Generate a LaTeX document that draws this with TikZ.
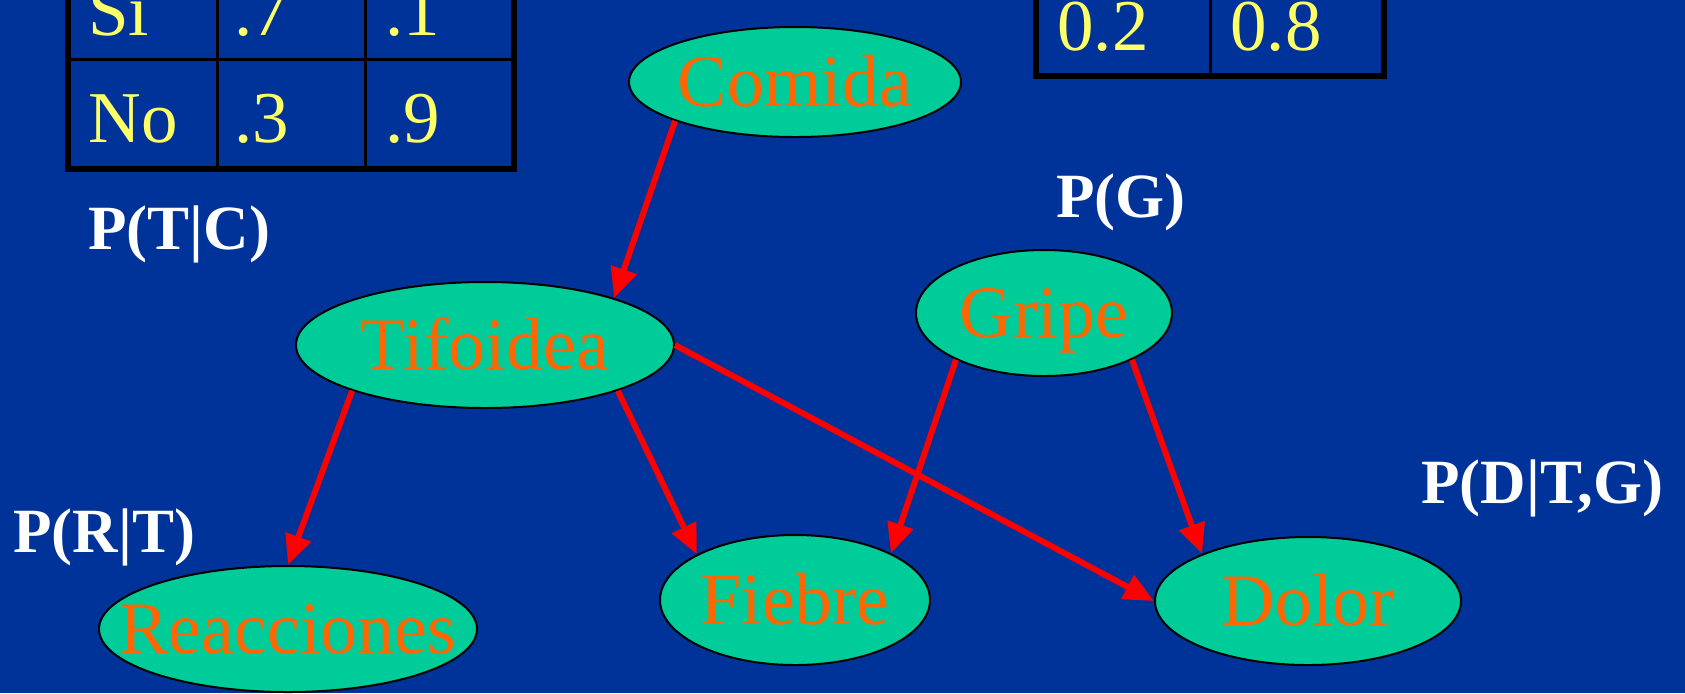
\documentclass[tikz,border=0pt]{standalone}
\usepackage{fontspec}
\setmainfont{Liberation Serif}
\usetikzlibrary{shapes.geometric,arrows.meta}
\definecolor{fondo}{RGB}{0,51,153}
\definecolor{verde}{RGB}{0,204,153}
\definecolor{naranja}{RGB}{255,102,0}
\definecolor{amarillo}{RGB}{255,255,102}
\tikzset{
  nodo/.style={ellipse, draw=black, line width=1pt, fill=verde, text=naranja,
    inner xsep=-20pt, inner ysep=0pt, text height=24.5pt, text depth=0pt,
    font=\fontsize{37}{40}\selectfont},
  flecha/.style={red, line width=3pt, -{Triangle[length=15pt,width=13pt]}},
  prob/.style={anchor=base west, text=white, inner sep=0pt,
    font=\fontsize{31.5}{34}\selectfont\bfseries},
  celda/.style={anchor=base west, text=amarillo, inner sep=0pt,
    font=\fontsize{36.5}{40}\selectfont},
  borde/.style={black, line width=3pt},
  linea/.style={black, line width=1.5pt}
}
\begin{document}
\begin{tikzpicture}[x=0.5pt,y=-0.5pt]
\useasboundingbox (0,0) rectangle (1685,693);
\clip (0,0) rectangle (1685,693);
\fill[fondo] (0,0) rectangle (1685,693);
% tablas
\draw[linea] (217,-100) -- (217,169) (365,-100) -- (365,169) (68,59) -- (514,59);
\draw[borde] (68,-100) -- (68,169) -- (514,169) -- (514,-100);
\draw[linea] (1210,-100) -- (1210,76);
\draw[borde] (1036,-100) -- (1036,76) -- (1384,76) -- (1384,-100);
\node[celda] (si) at (88,35) {Si};
\node[celda] (si1) at (234,35) {.7};
\node[celda] (si2) at (385,35) {.1};
\node[celda] (no) at (88,142) {No};
\node[celda] (no1) at (234,142) {.3};
\node[celda] (no2) at (385,142) {.9};
\node[celda] (g1) at (1057,50) {0.2};
\node[celda] (g2) at (1230,50) {0.8};
% red
\node[nodo, minimum width=166pt, minimum height=55pt] (comida) at (795,82) {Comida};
\node[nodo, minimum width=189pt, minimum height=63pt] (tifoidea) at (485,345) {Tifoidea};
\node[nodo, minimum width=128pt, minimum height=63pt] (gripe) at (1044,313) {Gripe};
\node[nodo, minimum width=189pt, minimum height=63pt] (reacciones) at (288,629) {Reacciones};
\node[nodo, minimum width=135pt, minimum height=65pt] (fiebre) at (795,600) {Fiebre};
\node[nodo, minimum width=153pt, minimum height=64pt] (dolor) at (1308,601) {Dolor};
\foreach \a/\b in {comida.198/tifoidea.20, tifoidea.199/reacciones.90,
  tifoidea.341/fiebre.155, tifoidea.0/dolor.180, gripe.208/fiebre.26, gripe.332/dolor.156}
  \draw[flecha] (\a) -- (\b);
% probabilidades
\node[prob] (ptc) at (88,249) {P(T|C)};
\node[prob] (pg) at (1056,217) {P(G)};
\node[prob] (prt) at (13,552) {P(R|T)};
\node[prob] (pdtg) at (1421,503) {P(D|T,G)};
\end{tikzpicture}
\end{document}
